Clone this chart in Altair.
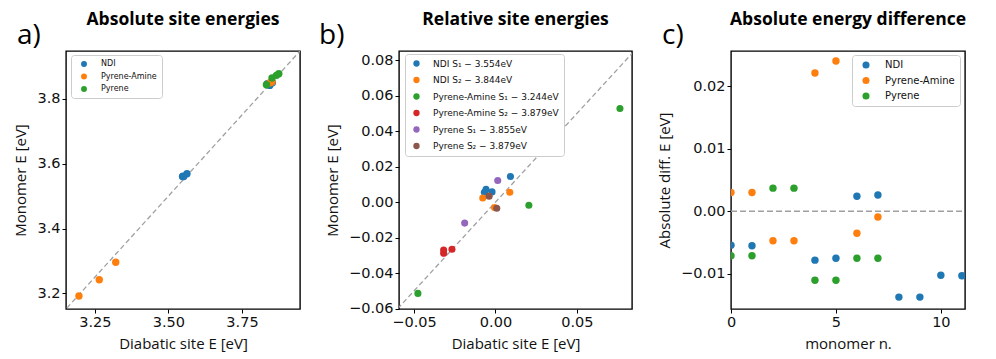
import altair as alt
import pandas as pd

# ---------------- data ----------------
# Panel a: absolute site energies
a_ndi_x = [3.548, 3.549, 3.552, 3.563, 3.836, 3.844, 3.853]
a_ndi_y = [3.560, 3.561, 3.560, 3.569, 3.846, 3.841, 3.849]
a_pa_x = [3.196, 3.265, 3.321, 3.845, 3.848, 3.852]
a_pa_y = [3.192, 3.242, 3.296, 3.849, 3.851, 3.852]
a_py_x = [3.833, 3.852, 3.867, 3.875]
a_py_y = [3.843, 3.864, 3.872, 3.877]
a_groups = ["NDI", "Pyrene-Amine", "Pyrene"]

# Panel b: relative site energies
b_labels = [
    "NDI S\u2081 \u2212 3.554eV",
    "NDI S\u2082 \u2212 3.844eV",
    "Pyrene-Amine S\u2081 \u2212 3.244eV",
    "Pyrene-Amine S\u2082 \u2212 3.879eV",
    "Pyrene S\u2081 \u2212 3.855eV",
    "Pyrene S\u2082 \u2212 3.879eV",
]
b_x = [
    [-0.0068, -0.0058, -0.0021, 0.0092],
    [-0.0078, -0.0006, 0.0088],
    [-0.0476, 0.0205, 0.0764],
    [-0.0318, -0.0318, -0.0267],
    [-0.0189, 0.0014],
    [-0.0039, 0.0008],
]
b_y = [
    [0.0056, 0.0072, 0.0058, 0.0145],
    [0.0024, -0.0030, 0.0056],
    [-0.0514, -0.0017, 0.0528],
    [-0.0270, -0.0288, -0.0265],
    [-0.0118, 0.0122],
    [0.0034, -0.0034],
]

# Panel c: absolute energy difference per monomer
c_ndi_n = [0, 1, 4, 5, 6, 7, 8, 9, 10, 11]
c_ndi_d = [-0.0054, -0.0055, -0.0078, -0.0075, 0.0024, 0.0026, -0.0137, -0.0137, -0.0102, -0.0103]
c_pa_n = [0, 1, 2, 3, 4, 5, 6, 7]
c_pa_d = [0.0030, 0.0030, -0.0047, -0.0047, 0.0221, 0.0240, -0.0035, -0.0009]
c_py_n = [0, 1, 2, 3, 4, 5, 6, 7]
c_py_d = [-0.0071, -0.0071, 0.0037, 0.0037, -0.0110, -0.0110, -0.0075, -0.0075]

panel_titles = ["Absolute site energies", "Relative site energies", "Absolute energy difference"]
panel_letters = ["a)", "b)", "c)"]

# tick values
a_xticks = [3.25, 3.5, 3.75]
a_yticks = [3.2, 3.4, 3.6, 3.8]
b_xticks = [-0.05, 0.0, 0.05]
b_yticks = [-0.06, -0.04, -0.02, 0.0, 0.02, 0.04, 0.06, 0.08]
c_xticks = [0, 5, 10]
c_yticks = [-0.01, 0.0, 0.01, 0.02]

colors = ["#1f77b4", "#ff7f0e", "#2ca02c", "#d62728", "#9467bd", "#8c564b"]

a_dom = [3.152, 3.947]
b_xdom = [-0.0592, 0.0838]
b_ydom = [-0.0602, 0.0852]
c_xdom = [0, 11.15]
c_ydom = [-0.0156, 0.0256]

TICK_FONT = "DejaVu Sans"
TITLE_FONT = "Open Sans"
H = 258
DASH = "#a0a0a0"


def make_df(xs, ys, names):
    rows = []
    for xl, yl, nm in zip(xs, ys, names):
        for xv, yv in zip(xl, yl):
            rows.append({"x": xv, "y": yv, "g": nm})
    return pd.DataFrame(rows)


def axis(vals, fmt, title):
    return alt.Axis(values=vals, format=fmt, title=title, labelOverlap=False,
                    tickCount=len(vals) + 4, labelFlush=False, labelBound=False)


def legend(x, y, fs, ss, off, symoff, rowpad):
    return alt.Legend(
        title=None, orient="none", legendX=x, legendY=y,
        labelFont=TICK_FONT, labelFontSize=fs, labelColor="#111",
        symbolType="circle", symbolSize=ss, symbolStrokeWidth=0,
        labelOffset=off, symbolOffset=symoff, rowPadding=rowpad,
        fillColor="white", strokeColor="#cccccc", cornerRadius=3, padding=5,
    )


def letter_text(t, xoff):
    return alt.Chart(pd.DataFrame({"t": [t]})).mark_text(
        font=TITLE_FONT, fontSize=28, align="left", baseline="alphabetic", color="black"
    ).encode(x=alt.value(xoff), y=alt.value(-7), text="t:N")


def title_text(t, w):
    return alt.Chart(pd.DataFrame({"t": [t]})).mark_text(
        font=TITLE_FONT, fontSize=17.5, fontWeight="bold", align="center",
        baseline="alphabetic", color="black"
    ).encode(x=alt.value(w / 2), y=alt.value(-26), text="t:N")


# ---------------- panel a ----------------
df_a = make_df([a_ndi_x, a_pa_x, a_py_x], [a_ndi_y, a_pa_y, a_py_y], a_groups)
diag_a = pd.DataFrame({"v": [3.10, 4.00]})
a_scale = alt.Scale(domain=a_dom, nice=False, zero=False)
line_a = alt.Chart(diag_a).mark_line(color=DASH, strokeDash=[5, 3], strokeWidth=1.3, clip=True).encode(
    x=alt.X("v:Q", scale=a_scale), y=alt.Y("v:Q", scale=a_scale))
pts_a = alt.Chart(df_a).mark_circle(size=55, opacity=1).encode(
    x=alt.X("x:Q", scale=a_scale, axis=axis(a_xticks, ".2f", "Diabatic site E [eV]")),
    y=alt.Y("y:Q", scale=a_scale, axis=axis(a_yticks, ".1f", "Monomer E [eV]")),
    color=alt.Color("g:N", scale=alt.Scale(domain=a_groups, range=colors[:3]),
                    legend=legend(5, 4, 8, 35, 13, 4, 4.5)))
WA = 234
panel_a = alt.layer(line_a, pts_a, letter_text(panel_letters[0], -49),
                    title_text(panel_titles[0], WA)).properties(width=WA, height=H)

# ---------------- panel b ----------------
df_b = make_df(b_x, b_y, b_labels)
diag_b = pd.DataFrame({"v": [-0.07, 0.09]})
xb_scale = alt.Scale(domain=b_xdom, nice=False, zero=False)
yb_scale = alt.Scale(domain=b_ydom, nice=False, zero=False)
line_b = alt.Chart(diag_b).mark_line(color=DASH, strokeDash=[5, 3], strokeWidth=1.3, clip=True).encode(
    x=alt.X("v:Q", scale=xb_scale), y=alt.Y("v:Q", scale=yb_scale))
pts_b = alt.Chart(df_b).mark_circle(size=50, opacity=1).encode(
    x=alt.X("x:Q", scale=xb_scale, axis=axis(b_xticks, ".2f", "Diabatic site E [eV]")),
    y=alt.Y("y:Q", scale=yb_scale, axis=axis(b_yticks, ".2f", "Monomer E [eV]")),
    color=alt.Color("g:N", scale=alt.Scale(domain=b_labels, range=colors),
                    legend=legend(6, 3, 9, 40, 12, 2, 6.5)))
WB = 233
panel_b = alt.layer(line_b, pts_b, letter_text(panel_letters[1], -80),
                    title_text(panel_titles[1], WB)).properties(width=WB, height=H)

# ---------------- panel c ----------------
df_c = make_df([c_ndi_n, c_pa_n, c_py_n], [c_ndi_d, c_pa_d, c_py_d], a_groups)
zero_c = pd.DataFrame({"n": [c_xdom[0], c_xdom[1]], "z": [0.0, 0.0]})
xc_scale = alt.Scale(domain=c_xdom, nice=False, zero=False)
yc_scale = alt.Scale(domain=c_ydom, nice=False, zero=False)
line_c = alt.Chart(zero_c).mark_line(color=DASH, strokeDash=[6, 3], strokeWidth=1.5, clip=True).encode(
    x=alt.X("n:Q", scale=xc_scale), y=alt.Y("z:Q", scale=yc_scale))
pts_c = alt.Chart(df_c).mark_circle(size=55, opacity=1, clip=True).encode(
    x=alt.X("x:Q", scale=xc_scale, axis=axis(c_xticks, "d", "monomer n.")),
    y=alt.Y("y:Q", scale=yc_scale, axis=axis(c_yticks, ".2f", "Absolute diff. E [eV]")),
    color=alt.Color("g:N", scale=alt.Scale(domain=a_groups, range=colors[:3]),
                    legend=legend(121, 4, 10, 50, 14, 4, 5.5)))
WC = 234
panel_c = alt.layer(line_c, pts_c, letter_text(panel_letters[2], -69),
                    title_text(panel_titles[2], WC)).properties(width=WC, height=H)

chart = alt.hconcat(panel_a, panel_b, panel_c, spacing=99, bounds="flush").resolve_scale(
    color="independent", x="independent", y="independent"
).resolve_legend(color="independent").properties(
    padding={"left": 5, "top": 2, "right": 0, "bottom": 0}
).configure_view(
    stroke="black", strokeWidth=1.4
).configure_axis(
    domain=False, grid=False, tickColor="black", tickSize=4, tickWidth=1,
    labelFont=TICK_FONT, labelFontSize=14.5, labelColor="#111", labelPadding=2,
    titleFont=TITLE_FONT, titleFontSize=15, titleFontWeight="normal", titleColor="#111",
    titlePadding=8,
)

chart.save("out.html", embed_options={"renderer": "svg", "actions": False})
